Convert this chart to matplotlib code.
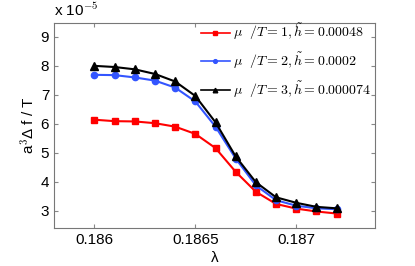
import numpy as np
import matplotlib.pyplot as plt

plt.rcParams['font.family'] = ['Liberation Sans', 'DejaVu Sans']
plt.rcParams['mathtext.fontset'] = 'cm'

lam = [0.1860, 0.1861, 0.1862, 0.1863, 0.1864, 0.1865, 0.1866,
       0.1867, 0.1868, 0.1869, 0.1870, 0.1871, 0.1872]
red = [6.14, 6.09, 6.08, 6.02, 5.90, 5.65, 5.16, 4.34, 3.65, 3.23, 3.07, 2.97, 2.90]
blue = [7.69, 7.68, 7.60, 7.49, 7.25, 6.77, 5.90, 4.80, 3.87, 3.36, 3.17, 3.08, 3.05]
black = [8.00, 7.96, 7.88, 7.72, 7.46, 6.96, 6.05, 4.87, 3.98, 3.46, 3.27, 3.13, 3.08]
labels = [r'$\mu\ \ /T = 1, \tilde{h} = 0.00048$',
          r'$\mu\ \ /T = 2, \tilde{h} = 0.0002$',
          r'$\mu\ \ /T = 3, \tilde{h} = 0.000074$']

fig = plt.figure(figsize=(4.15, 2.66), dpi=100)
ax = fig.add_axes([54/415, 1-228/266, (375-54)/415, (228-23)/266])

ax.plot(lam, red, '-s', color='#ff0000', lw=1.5, ms=4.5, label=labels[0])
ax.plot(lam, blue, '-o', color='#3355ff', lw=1.5, ms=4.5, label=labels[1])
ax.plot(lam, black, '-^', color='black', lw=1.5, ms=5.5, label=labels[2])

ax.set_xlim(0.1858, 0.18739)
ax.set_ylim(2.4, 9.48)
ax.set_xticks([0.186, 0.1865, 0.187])
ax.set_xticklabels(['0.186', '0.1865', '0.187'])
ax.set_yticks([3, 4, 5, 6, 7, 8, 9])
ax.tick_params(direction='in', top=True, right=True, labelsize=11, length=3, color='#888888')
for s in ax.spines.values():
    s.set_color('#777777')

ax.set_xlabel('λ', fontsize=11, labelpad=3)
ax.set_ylabel(r'a$^3$Δ f / T', fontsize=11, labelpad=2)
ax.text(0.0, 1.02, r'x 10$^{-5}$', transform=ax.transAxes, fontsize=11,
        ha='left', va='bottom')

leg = ax.legend(loc='upper right', bbox_to_anchor=(1.0, 1.025), frameon=False,
                fontsize=10, handlelength=2.1, borderaxespad=0.0, borderpad=0.3,
                labelspacing=0.6, handletextpad=0.2, markerscale=0.6)
for h in leg.legend_handles:
    h.set_linewidth(1.2)

fig.savefig('out.png', dpi=100)
